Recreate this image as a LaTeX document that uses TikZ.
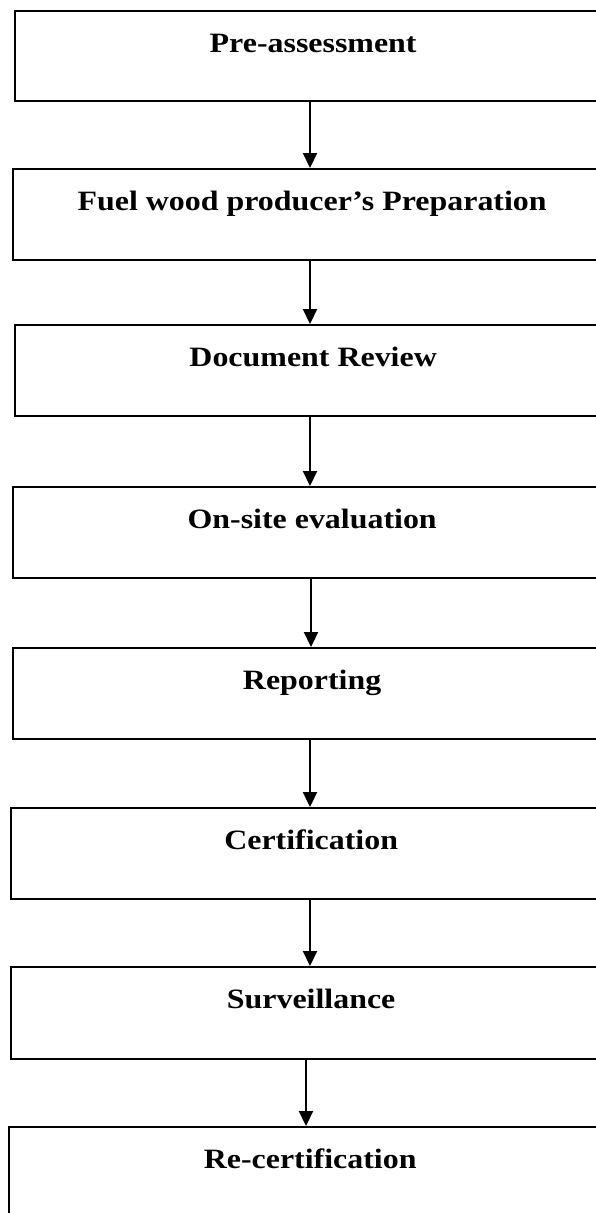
\documentclass[tikz,border=0pt]{standalone}
\usepackage{fontspec}
\setmainfont{Liberation Serif}
\usetikzlibrary{arrows.meta}
\tikzset{
  stagebox/.style={draw=black, line width=2.3pt, inner sep=0pt, anchor=north west,
    font=\fontsize{28}{30}\selectfont\bfseries, text height=41pt},
  flow/.style={line width=2.2pt, -{Triangle[length=15pt,width=14pt]}}
}
\newcommand{\stage}[5]{% name, left, top, bottom, text
  \pgfmathsetmacro{\bw}{610-#2}%
  \pgfmathsetmacro{\bh}{#4-#3}%
  \pgfmathsetmacro{\bd}{#4-#3-41}%
  \node[stagebox, minimum width=\bw pt, minimum height=\bh pt, text depth=\bd pt] (#1) at (#2,#3) {\scalebox{1.14}[1]{#5}};%
}
\begin{document}
\begin{tikzpicture}[x=1pt,y=-1pt]
\useasboundingbox (0,0) rectangle (596,1213);
\clip (0,0) rectangle (596,1213);
\stage{s1}{14}{10}{100}{Pre-assessment}
\stage{s2}{12}{168}{259}{Fuel wood producer’s Preparation}
\stage{s3}{14}{324}{415}{Document Review}
\stage{s4}{12}{486}{577}{On-site evaluation}
\stage{s5}{12}{647}{738}{Reporting}
\stage{s6}{10}{807}{898}{Certification}
\stage{s7}{10}{966}{1058}{Surveillance}
\stage{s8}{8}{1126}{1220}{Re-certification}
\draw[flow] (s1.south -| 310,0) -- (s2.north -| 310,0);
\draw[flow] (s2.south -| 310,0) -- (s3.north -| 310,0);
\draw[flow] (s3.south -| 310,0) -- (s4.north -| 310,0);
\draw[flow] (s4.south -| 311,0) -- (s5.north -| 311,0);
\draw[flow] (s5.south -| 310,0) -- (s6.north -| 310,0);
\draw[flow] (s6.south -| 310,0) -- (s7.north -| 310,0);
\draw[flow] (s7.south -| 306,0) -- (s8.north -| 306,0);
\end{tikzpicture}
\end{document}
